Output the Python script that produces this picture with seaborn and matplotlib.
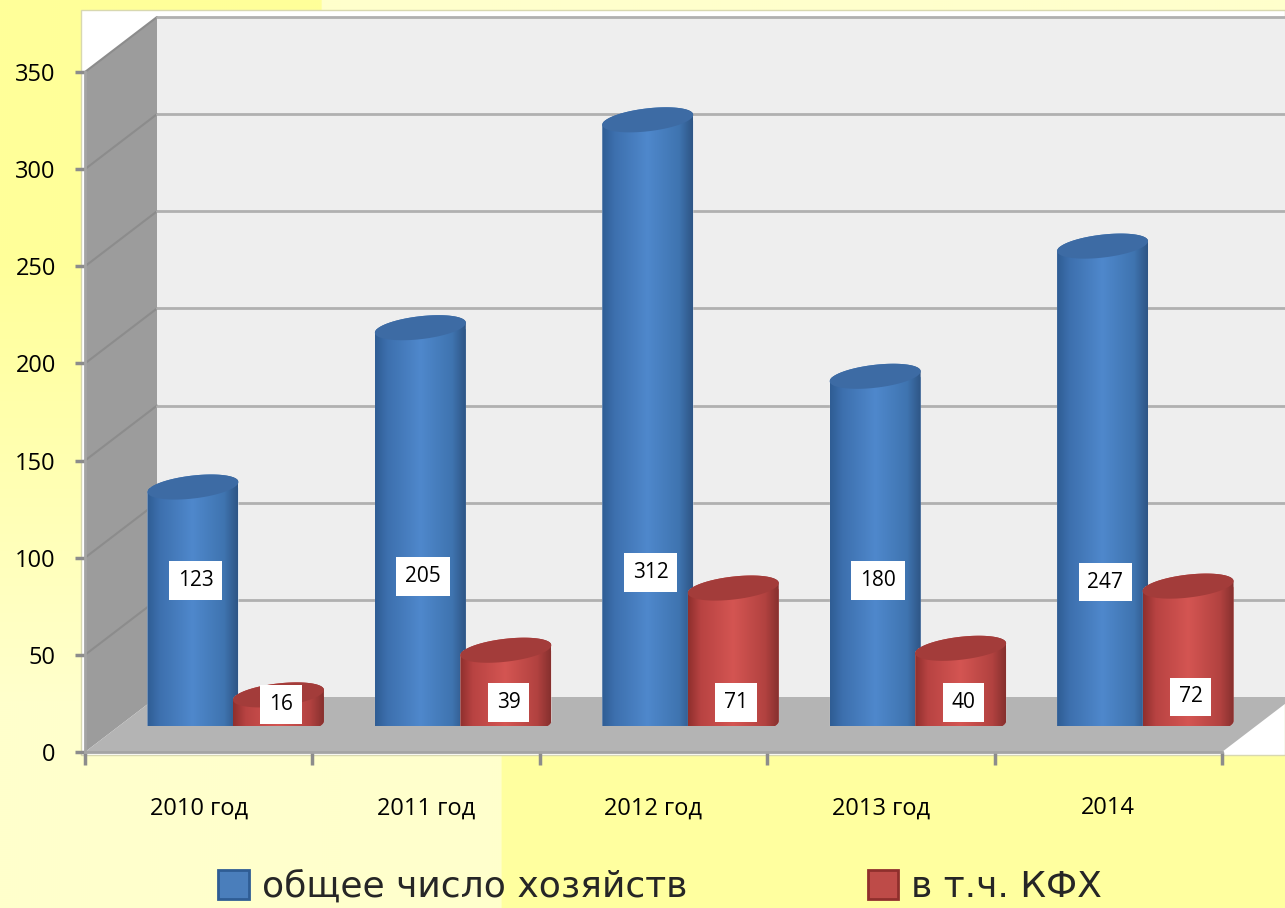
import numpy as np
import pandas as pd
import matplotlib
matplotlib.use("Agg")
import matplotlib.pyplot as plt
from matplotlib.colors import LinearSegmentedColormap as LSC
from matplotlib.patches import Patch, Polygon, Rectangle
import seaborn as sns

years = ["2010 год", "2011 год", "2012 год", "2013 год", "2014"]
series_names = ["общее число хозяйств", "в т.ч. КФХ"]
total_farms = [123, 205, 312, 180, 247]
kfh_farms = [16, 39, 71, 40, 72]
y_ticks = [0, 50, 100, 150, 200, 250, 300, 350]

# label heights in data units, as placed in the picture
label_heights = [[75, 77, 79, 75, 74], [11, 12, 12, 12, 15]]

W, H = 1285, 908
L, R, B, T = 85, 1222, 752, 72
PX_X = 5 / (R - L)
PX_Y = 350 / (B - T)
DEPTH_X, DEPTH_Y = 72 * PX_X, 55 * PX_Y
SHIFT_X, SHIFT_Y = 37, 26

sns.set_theme(style="white")
plt.rcParams["font.family"] = ["Open Sans", "DejaVu Sans"]

fig = plt.figure(figsize=(W / 100, H / 100), dpi=100)


def axes_at(left, right, bottom, top):
    return fig.add_axes([left / W, 1 - bottom / H, (right - left) / W, (bottom - top) / H])


# page background and the white plot area
bg = fig.add_axes([0, 0, 1, 1], zorder=0)
yy, xx = np.mgrid[0:H:2, 0:W:2]
t = np.clip((yy - 250) / 450, 0, 1)
t = np.where(xx > 500, 0.12, t)
t = np.where((xx > 320) & (yy < 300), 1.0, t)
pale = np.array([255, 255, 204]) / 255
strong = np.array([255, 255, 153]) / 255
bg.imshow(strong + (pale - strong) * t[..., None], extent=[0, W, H, 0], aspect="auto")
bg.add_patch(Rectangle((81, 10), W - 81, 745, fc="white", ec="#d8d8b0", lw=1))
bg.set_xlim(0, W)
bg.set_ylim(H, 0)
bg.axis("off")

# frame axes: walls, floor, ticks
ax = axes_at(L, R, B, T)
ax.set_zorder(1)
ax.patch.set_alpha(0)
ax.set_xlim(-0.5, 4.5)
ax.set_ylim(0, 350)
x0, x1 = -0.5, 4.5
top = 350 + DEPTH_Y
ax.add_patch(Polygon([(x0 + DEPTH_X, DEPTH_Y), (x1 + DEPTH_X, DEPTH_Y), (x1 + DEPTH_X, top), (x0 + DEPTH_X, top)],
                     fc="#eeeeee", ec="none", clip_on=False, zorder=1))
ax.add_patch(Polygon([(x0, 0), (x0 + DEPTH_X, DEPTH_Y), (x0 + DEPTH_X, top), (x0, 350)],
                     fc="#9c9c9c", ec="none", clip_on=False, zorder=1))
ax.add_patch(Polygon([(x0, 0), (x1, 0), (x1 + DEPTH_X, DEPTH_Y), (x0 + DEPTH_X, DEPTH_Y)],
                     fc="#b4b4b4", ec="none", clip_on=False, zorder=1.5))
for v in y_ticks[1:]:
    ax.plot([x0, x0 + DEPTH_X], [v, v + DEPTH_Y], color="#8c8c8c", lw=1.5, clip_on=False, zorder=1.2)
    ax.plot([x0 + DEPTH_X, x1 + DEPTH_X], [v + DEPTH_Y, v + DEPTH_Y], color="#b0b0b0", lw=2, clip_on=False, zorder=1.2)
for side in ["top", "right"]:
    ax.spines[side].set_visible(False)
for side in ["left", "bottom"]:
    ax.spines[side].set_color("#a4a4a4")
    ax.spines[side].set_linewidth(2)
ax.set_yticks(y_ticks)
ax.set_xticks(np.arange(-0.5, 4.6, 1))
ax.set_xticklabels([])
ax.set_xticks(range(5), labels=years, minor=True)
ax.tick_params(axis="y", length=7, width=2.5, color="#8c8c8c", pad=14, labelsize=17, labelcolor="black", left=True)
ax.tick_params(axis="x", which="major", length=9, width=2.5, color="#8c8c8c", bottom=True)
ax.tick_params(axis="x", which="minor", length=0, pad=32, labelsize=17, labelcolor="black")

# bars, on an overlay shifted into the chart depth
bax = axes_at(L + SHIFT_X, R + SHIFT_X, B - SHIFT_Y, T - SHIFT_Y)
bax.set_zorder(2)
df = pd.DataFrame({
    "year": years * 2,
    "series": [series_names[0]] * 5 + [series_names[1]] * 5,
    "value": total_farms + kfh_farms,
})
palette = {series_names[0]: "#4a7ebb", series_names[1]: "#be4b48"}
sns.barplot(data=df, x="year", y="value", hue="series", hue_order=series_names, order=years,
            palette=palette, width=0.8, legend=False, ax=bax, saturation=1)
bax.patch.set_alpha(0)

cmaps = [
    LSC.from_list("b", [(0, "#2f5d94"), (.14, "#3d70ae"), (.5, "#4f88cc"), (.85, "#3f74b0"), (1, "#2e5585")]),
    LSC.from_list("r", [(0, "#8f2f2d"), (.14, "#b84342"), (.5, "#d45552"), (.85, "#b24240"), (1, "#86302e")]),
]
top_colors = ["#3d6ba4", "#a33c3a"]
edge_shift = [0.012, -0.012]
B_R = 11.5 * PX_Y
TILT = 5 * PX_Y
ang = np.linspace(0, 2 * np.pi, 121)

for s, container in enumerate(bax.containers):
    for i, bar in enumerate(container):
        bar.set_x(bar.get_x() + edge_shift[s])
        bx, bw, h = bar.get_x(), bar.get_width(), bar.get_height()
        cx = bx + bw / 2
        a = bw / 2
        ex, es = a * np.cos(ang), B_R * np.sin(ang) + TILT * np.cos(ang)
        upper = ang <= np.pi
        lower = ang >= np.pi
        outline = np.r_[np.c_[cx + ex[upper], h + es[upper]], np.c_[cx + ex[lower], es[lower]]]
        z = 2 + s
        clip = Polygon(outline, transform=bax.transData)
        bar.set_clip_path(clip)
        bar.set_zorder(z)
        im = bax.imshow(np.linspace(0, 1, 256)[None, :], cmap=cmaps[s], aspect="auto",
                        extent=[bx, bx + bw, -2 * B_R, h + 2 * B_R], zorder=z + 0.1, clip_on=True)
        im.set_clip_path(clip)
        bax.add_patch(Polygon(np.c_[cx + ex, h + es], fc=top_colors[s], ec="none", zorder=z + 0.2, clip_on=False))
        bax.text(cx + 0.012, label_heights[s][i], f"{int(h)}", ha="center", va="center", fontsize=15, color="black",
                 zorder=6, bbox=dict(boxstyle="square,pad=0.42", fc="white", ec="none"))

bax.set_xlim(-0.5, 4.5)
bax.set_ylim(0, 350)
bax.axis("off")

handles = [Patch(fc=c, ec=e, lw=2) for c, e in zip(["#4a7ebb", "#be4b48"], ["#2f5d94", "#8f2f2d"])]
fig.legend(handles, series_names, loc="center", bbox_to_anchor=(660 / W, 1 - 887 / H), ncol=2, frameon=False,
           fontsize=26, handlelength=0.85, handleheight=0.85, handletextpad=0.35, columnspacing=5.0,
           prop={"family": ["DejaVu Sans"], "size": 26}, borderpad=0)

fig.savefig("out.png", dpi=100)
